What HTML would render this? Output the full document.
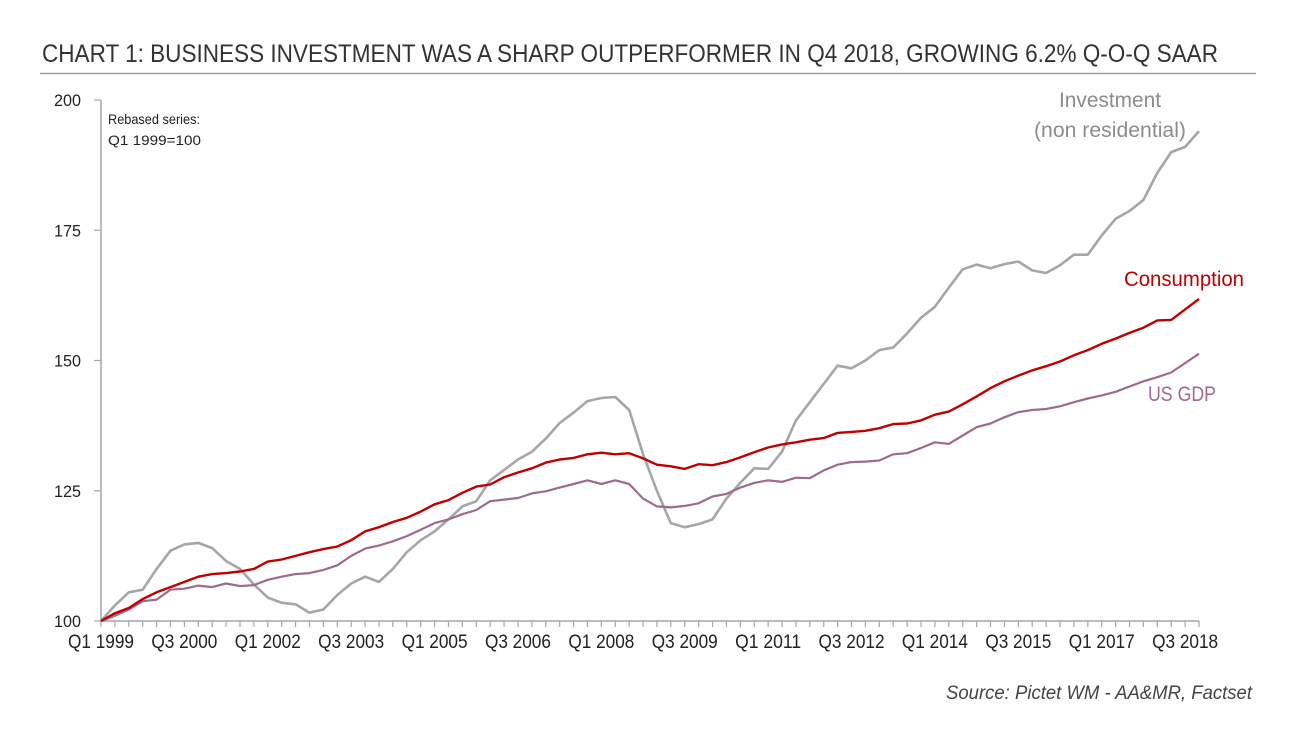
<!DOCTYPE html>
<html><head><meta charset="utf-8"><style>
html,body{margin:0;padding:0;background:#fff;}
svg{display:block;font-family:"Liberation Sans",sans-serif;}
</style></head><body>
<svg id="chart" width="1308" height="734" viewBox="0 0 1308 734">
<text x="42" y="62" font-size="25" fill="#333" textLength="1176" lengthAdjust="spacingAndGlyphs">CHART 1: BUSINESS INVESTMENT WAS A SHARP OUTPERFORMER IN Q4 2018, GROWING 6.2% Q-O-Q SAAR</text>
<line x1="40" y1="73.5" x2="1256" y2="73.5" stroke="#9a9a9a" stroke-width="1.5"/>
<text x="108" y="124" font-size="14" fill="#222" textLength="92" lengthAdjust="spacingAndGlyphs">Rebased series:</text>
<text x="108" y="145" font-size="14" fill="#222" textLength="93" lengthAdjust="spacingAndGlyphs">Q1 1999=100</text>
<text x="1252" y="699" font-size="19" font-style="italic" fill="#444" text-anchor="end" textLength="306" lengthAdjust="spacingAndGlyphs">Source: Pictet WM - AA&amp;MR, Factset</text>
<g id="axes"></g>
<g id="series"></g>
<text x="1110" y="107" font-size="21" fill="#8c8c8c" text-anchor="middle" textLength="102" lengthAdjust="spacingAndGlyphs">Investment</text>
<text x="1110" y="137" font-size="21" fill="#8c8c8c" text-anchor="middle" textLength="152" lengthAdjust="spacingAndGlyphs">(non residential)</text>
<text x="1244" y="286" font-size="21" fill="#c00000" text-anchor="end" textLength="120" lengthAdjust="spacingAndGlyphs">Consumption</text>
<text x="1216" y="401" font-size="21" fill="#a06a8c" text-anchor="end" textLength="68" lengthAdjust="spacingAndGlyphs">US GDP</text>
</svg>
<script>
const quarterLabels=["Q1 1999","Q3 2000","Q1 2002","Q3 2003","Q1 2005","Q3 2006","Q1 2008","Q3 2009","Q1 2011","Q3 2012","Q1 2014","Q3 2015","Q1 2017","Q3 2018"];
const yTicks=[100,125,150,175,200];
const investment=[100,103,105.5,106,110,113.5,114.7,115,114,111.5,110,107,104.5,103.5,103.2,101.6,102.2,105,107.2,108.5,107.5,110,113.2,115.5,117.2,119.5,122,123,127,129,131,132.5,135,138,140,142.2,142.8,143,140.5,132,125,118.8,118,118.6,119.5,123.5,126.5,129.3,129.2,132.5,138.5,142,145.5,149,148.5,150,152,152.5,155.2,158.2,160.3,164,167.5,168.4,167.7,168.5,169,167.3,166.8,168.3,170.3,170.3,174,177.2,178.7,180.8,186,190,191,194];
const consumption=[100,101.5,102.5,104.2,105.5,106.5,107.5,108.5,109,109.2,109.5,110,111.4,111.8,112.5,113.2,113.8,114.3,115.5,117.2,118,119,119.8,121,122.4,123.2,124.6,125.8,126.2,127.6,128.5,129.3,130.4,131,131.3,132,132.3,132,132.2,131.2,130,129.7,129.2,130.1,129.9,130.5,131.4,132.4,133.3,133.9,134.3,134.8,135.1,136.1,136.3,136.5,137,137.8,137.9,138.5,139.6,140.2,141.6,143.1,144.7,146,147.1,148.1,148.9,149.8,151,152,153.2,154.2,155.3,156.3,157.7,157.8,159.8,161.8];
const gdp=[100,101,102.2,103.8,104.1,106,106.2,106.8,106.5,107.2,106.7,106.9,107.9,108.5,109,109.2,109.8,110.7,112.5,113.9,114.5,115.3,116.3,117.5,118.8,119.5,120.5,121.3,123,123.3,123.6,124.5,124.9,125.6,126.3,127,126.3,127,126.3,123.5,122,121.8,122.1,122.6,123.9,124.4,125.6,126.5,127,126.7,127.5,127.4,128.9,130,130.5,130.6,130.8,132,132.2,133.2,134.3,134,135.6,137.2,137.9,139.1,140.1,140.5,140.7,141.2,142,142.7,143.3,144,145,146,146.8,147.7,149.5,151.3];
</script>
<script>
(function(){
const NS="http://www.w3.org/2000/svg";
const X0=101,X1=1199,Y0=621,Y1=100,N=80;
const x=i=>X0+(X1-X0)*i/(N-1);
const y=v=>Y0-(v-100)/(200-100)*(Y0-Y1);
function mk(tag,attrs,parent){const e=document.createElementNS(NS,tag);for(const k in attrs)e.setAttribute(k,attrs[k]);parent.appendChild(e);return e;}
const axes=document.getElementById('axes');
let l=mk('line',{x1:X0,y1:Y1,x2:X0,y2:Y0,stroke:'#a6a6a6','stroke-width':1.5},axes);


l=mk('line',{x1:X0,y1:Y0,x2:X1,y2:Y0,stroke:'#a6a6a6','stroke-width':1.5},axes);


yTicks.forEach(v=>{
 const t=mk('line',{x1:X0-7,y1:y(v),x2:X0,y2:y(v),stroke:'#a6a6a6','stroke-width':1.2},axes);
 
 
 const tx=mk('text',{x:81,y:y(v)+6,'font-size':17,fill:'#222','text-anchor':'end',textLength:27,lengthAdjust:'spacingAndGlyphs'},axes);
 tx.textContent=v;
 
 
});
for(let i=0;i<N;i++){
 const t=mk('line',{x1:x(i),y1:Y0,x2:x(i),y2:Y0+6,stroke:'#a6a6a6','stroke-width':1.2},axes);
 
 
}
quarterLabels.forEach((s,k)=>{
 const tx=mk('text',{x:x(k*6),y:648,'font-size':19,fill:'#222','text-anchor':'middle',textLength:66,lengthAdjust:'spacingAndGlyphs'},axes);
 tx.textContent=s;
 
 
});
const ser=document.getElementById('series');
function line(data,color,w,name){
 const d=data.map((v,i)=>(i?'L':'M')+x(i).toFixed(1)+','+y(v).toFixed(1)).join('');
 const p=mk('path',{d:d,fill:'none',stroke:color,'stroke-width':w,'stroke-linejoin':'round'},ser);
 
 
}
line(investment,'#a6a6a6',2.6,'investment-line');
line(gdp,'#a06a8c',2.2,'gdp-line');
line(consumption,'#c00000',2.4,'consumption-line');
})();
</script>
</body></html>
